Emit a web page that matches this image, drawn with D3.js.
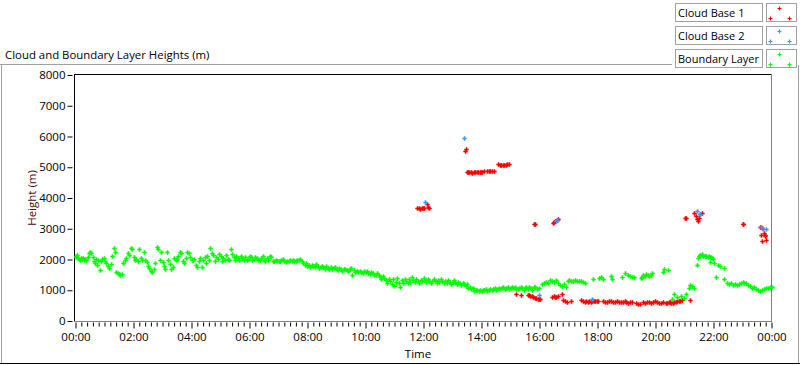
<!DOCTYPE html>
<html><head><meta charset="utf-8">
<script src="https://cdn.jsdelivr.net/npm/d3@7"></script>
<style>
html,body{margin:0;padding:0;background:#fff;}
svg{display:block;font-family:"Open Sans","Noto Sans",sans-serif;}
</style></head><body>
<svg id="c" width="800" height="365"></svg>
<script>
// ---- data (time in minutes since 00:00, height in m) ----
const seriesNames = ["Cloud Base 1", "Cloud Base 2", "Boundary Layer"];
const seriesColors = ["#ff0000", "#3399ff", "#00ff00"];
const xTickLabels = ["00:00","02:00","04:00","06:00","08:00","10:00","12:00","14:00","16:00","18:00","20:00","22:00","00:00"];
const yTickValues = [0,1000,2000,3000,4000,5000,6000,7000,8000];

const cloudBase1 = [
 [707,3660],[710,3670],[713,3650],[716,3680],[719,3660],[722,3690],[727,3790],[730,3720],[732,3660],
 [805,5515],[807,5580],
 [810,4860],[812,4850],[815,4830],[818,4830],[821,4820],[824,4830],[827,4830],[830,4840],[833,4830],[836,4840],[839,4850],[842,4860],[845,4870],
 [852,4880],[855,4890],[858,4890],[862,4880],[866,4880],
 [875,5110],[878,5080],[881,5070],[884,5070],[887,5070],[890,5080],[893,5090],[896,5110],
 [948,3164],[950,3164],
 [988,3200],[990,3210],[993,3260],[996,3300],[999,3330],
 [1262,3360],[1264,3360],
 [1279,3520],[1283,3410],[1285,3326],[1287,3261],[1290,3358],[1292,3488],[1296,3520],
 [1380,3164],[1382,3164],
 [1417,3055],[1421,3023],[1418,2807],[1424,2860],[1426,2785],[1427,2753],[1421,2614],[1428,2646],
 [912,864],[922,832],
 [936,842],[938,860],[941,820],[944,800],[947,767],[950,760],[953,735],[956,720],[959,712],[961,700],
 [986,780],[989,800],[992,790],[995,767],[998,810],[1007,864],
 [1009,680],[1012,640],[1016,625],[1025,637],
 [1045,680],[1051,640],[1054,630],[1057,650],[1060,620],[1063,640],[1066,630],[1069,650],[1072,640],[1075,660],[1078,640],[1081,650],
 [1092,650],[1096,630],[1100,620],[1104,640],[1108,650],[1112,630],[1116,620],[1120,640],[1124,630],[1128,610],[1132,620],[1136,640],[1140,620],[1144,600],[1148,630],[1152,620],
 [1159,570],[1163,540],[1167,560],
 [1175,620],[1179,600],[1183,630],[1187,610],[1191,590],[1195,620],[1199,640],[1203,610],[1207,580],[1211,600],[1215,620],
 [1221,600],[1224,580],[1227,610],[1230,620],[1233,600],[1236,590],[1239,630],[1242,620],[1245,640],[1248,660],[1251,650],[1254,680],
 [1271,680]
];

const cloudBase2 = [
 [724,3877],[804,5950],[994,3260],[997,3290],[959,832],[1069,723],[1286,3585],[1293,3466],[1418,3066],[1423,2990],[1428,2990]
];

const boundaryLayer = [
 [0,2130],[2,2080],[4,2150],[6,2050],[8,2020],[10,1990],[12,2040],[14,2010],[16,2060],[18,1980],[20,2030],[22,2000],[25,2070],[28,2220],[31,2240],[33,2200],[36,2080],[38,1950],[40,1880],[42,2020],[44,1820],[47,1990],[50,1650],[52,1940],[55,2010],[58,2060],[61,1960],[64,1880],[67,1790],[70,1730],[73,1850],[76,2100],[79,2380],[81,2240],[84,1600],[87,1560],[90,1530],[93,1500],[96,1540],[99,1900],[102,1980],[105,2040],[108,2200],[111,2150],[114,2380],[117,2330],[120,2070],[123,1980],[126,2020],[129,1960],[132,2340],[135,2050],[138,2000],[141,2240],[144,1990],[147,1930],
 [150,1800],[153,1720],[156,1620],[159,1580],[162,1700],[165,1880],[168,2400],[171,2350],[174,2000],[177,2240],[180,1920],[183,1790],[186,1700],[189,2250],[192,1980],[195,1860],[198,1680],[201,1750],[204,2050],[207,1980],[210,2030],[213,2100],[216,2260],[219,2200],[222,1960],[225,1900],[228,2040],[231,2250],[234,2220],[237,2080],[240,1990],[243,1970],[246,2010],[249,1830],[252,1740],[255,1950],[258,2050],[261,1760],[264,1990],[267,2070],[270,1870],[273,2100],[276,2000],[279,2390],
 [282,2200],[285,2150],[288,1960],[291,2080],[294,2010],[297,2180],[300,2100],[303,1940],[306,2060],[309,1990],[312,2150],[315,2030],[318,1970],[321,2330],[324,2180],[327,2070],[330,2000],[333,2110],[336,2040],[339,1980],[342,2120],[345,2060],[348,2000],[351,2080],[354,1990],[357,2020],[360,2130],[363,2070],[366,1980],[369,2010],[372,2090],[375,2040],[378,1970],[381,2000],[384,2050],[387,2100],[390,1980],[393,1960],[396,2040],[399,2000],[402,2120],[405,2070],[408,1950],[411,1940],[414,2000],[417,1960],[420,1950],[423,1940],[426,1980],[429,2020],[432,1960],[435,1930],[438,1950],[441,1940],[444,1970],[447,1950],[450,1990],
 [453,1960],[456,1940],[459,1970],[462,1980],[465,2020],[468,1950],[471,1880],[474,1810],[477,1900],[480,1780],[483,1830],[486,1760],[489,1820],[492,1790],[495,1740],[498,1850],[501,1790],[504,1720],[507,1770],[510,1800],[513,1750],[516,1700],[519,1780],[522,1730],[525,1700],[528,1760],[531,1680],[534,1720],[537,1750],[540,1690],[543,1660],[546,1720],[549,1700],[552,1640],[555,1680],[558,1700],[561,1650],[564,1620],[567,1680],[570,1720],[573,1490],[576,1650],[579,1600],[582,1620],[585,1580],[588,1640],[591,1600],[594,1570],[597,1630],
 [600,1580],[603,1640],[606,1560],[609,1520],[612,1600],[615,1550],[618,1510],[621,1480],[624,1560],[627,1500],[630,1430],[633,1380],[636,1460],[639,1400],[642,1330],[645,1250],[648,1380],[651,1300],[654,1200],[657,1350],[660,1140],[663,1280],[666,1400],[669,1230],[672,1110],[675,1320],[678,1250],[681,1380],[684,1300],[687,1220],[690,1350],[693,1280],[696,1420],[699,1330],[702,1260],[705,1380],[708,1300],[711,1250],[714,1340],[717,1290],[720,1400],
 [723,1330],[726,1270],[729,1360],[732,1300],[735,1250],[738,1310],[741,1380],[744,1290],[747,1230],[750,1320],[753,1270],[756,1350],[759,1300],[762,1240],[765,1290],[768,1220],[771,1330],[774,1270],[777,1200],[780,1260],[783,1320],[786,1240],[789,1190],[792,1270],[795,1230],[798,1180],[801,1250],[804,1200],[807,1150],[810,1190],[813,1080],[816,1120],[819,1030],[822,1060],[825,990],[828,1020],[831,1000],[834,970],[837,1010],
 [840,990],[843,1020],[846,1000],[849,1040],[852,980],[855,1010],[858,1050],[861,1000],[864,1030],[867,1060],[870,1010],[873,1040],[876,1080],[879,1030],[882,1060],[885,1090],[888,1050],[891,1070],[894,1100],[897,1040],[900,1080],[903,1110],[906,1060],[909,1090],[912,1050],[915,1030],[918,1080],[921,1110],[924,1060],[927,1020],[930,1070],[933,1100],[936,1050],[939,1090],[942,1060],[945,1020],[948,1090],[951,1110],[955,1050],[958,1080],
 [966,1200],[970,1250],[974,1280],[978,1220],[982,1330],[986,1300],[990,1260],[994,1330],[998,1250],[1002,1180],[1006,1150],[1010,1200],[1014,1110],
 [1018,1290],[1022,1330],[1026,1300],[1030,1310],[1034,1320],[1038,1300],[1042,1310],[1046,1300],[1050,1280],[1054,1230],
 [1071,1380],[1084,1400],[1088,1440],[1091,1370],[1107,1468],[1110,1380],
 [1131,1415],[1137,1545],[1144,1480],[1148,1470],[1152,1430],[1155,1420],
 [1169,1400],[1172,1430],[1175,1480],[1178,1450],[1181,1520],[1184,1490],[1187,1460],[1190,1500],[1193,1550],
 [1215,1587],[1217,1706],[1226,1660],
 [1234,700],[1238,864],[1245,780],[1252,810],[1259,740],[1264,864],[1269,1060],[1272,1160],[1276,1134],[1279,1070],
 [1285,1814],[1287,2050],[1290,2110],[1293,2150],[1296,2170],[1299,2130],[1302,2100],[1305,2120],[1308,2090],[1311,2100],[1313,1920],[1314,2080],[1317,2060],[1320,2010],[1321,1890],
 [1326,1436],[1330,1820],[1334,1780],[1341,1716],[1342,1360],
 [1348,1240],[1352,1200],[1356,1250],[1360,1180],[1364,1210],[1368,1160],[1372,1200],[1376,1230],[1380,1260],[1384,1250],[1388,1240],
 [1392,1170],[1396,1140],[1400,1080],[1404,1100],[1408,1050],[1412,1000],[1416,970],[1420,1000],[1424,1040],[1428,1080],[1432,1060],[1436,1100],[1440,1090]
];

// ---- layout ----
const svg = d3.select("#c");
const FONT = "'Segoe UI','Open Sans',sans-serif";
const X0 = 75.5, X1 = 771.5, Y0 = 321, Y1 = 75;
const x = d3.scaleLinear().domain([0, 1440]).range([X0, X1]);
const y = d3.scaleLinear().domain([0, 8000]).range([Y0, Y1]);

// outer frame
svg.append("line").attr("x1",0).attr("x2",672).attr("y1",64.5).attr("y2",64.5).attr("stroke","#a0a0a0");
svg.append("line").attr("x1",1.5).attr("x2",1.5).attr("y1",65).attr("y2",363).attr("stroke","#a0a0a0");
svg.append("line").attr("x1",798.5).attr("x2",798.5).attr("y1",65).attr("y2",363).attr("stroke","#a0a0a0");
svg.append("line").attr("x1",0).attr("x2",800).attr("y1",363.5).attr("y2",363.5).attr("stroke","#000");

svg.append("text").attr("x",5).attr("y",59).attr("font-size",11.4).attr("font-family",FONT).attr("fill","#000")
  .text("Cloud and Boundary Layer Heights (m)");

// plot area frame
svg.append("rect").attr("x",74).attr("y",74).attr("width",698).attr("height",247).attr("fill","#fff");
svg.append("line").attr("x1",74.5).attr("x2",772).attr("y1",74.5).attr("y2",74.5).attr("stroke","#000");
svg.append("line").attr("x1",74.5).attr("x2",74.5).attr("y1",74).attr("y2",322).attr("stroke","#000");
svg.append("line").attr("x1",74).attr("x2",772).attr("y1",321.5).attr("y2",321.5).attr("stroke","#808080");
svg.append("line").attr("x1",771.5).attr("x2",771.5).attr("y1",74).attr("y2",322).attr("stroke","#808080");

// y axis
const yAxis = d3.axisLeft(y).tickValues(yTickValues).tickSize(5).tickPadding(2).tickFormat(d3.format("d"));
const gy = svg.append("g").attr("transform","translate(72.5,0)").call(yAxis);
gy.select(".domain").remove();
gy.selectAll(".tick line").attr("stroke","#000");
gy.selectAll(".tick text").attr("font-size",11.5).attr("fill","#000").attr("font-family",FONT);

// x axis major
const majorVals = xTickLabels.map((d,i)=>i*120);
const xAxis = d3.axisBottom(x).tickValues(majorVals).tickSize(6).tickPadding(4).tickFormat((d,i)=>xTickLabels[i]);
const gx = svg.append("g").attr("transform","translate(0,322.5)").call(xAxis);
gx.select(".domain").remove();
gx.selectAll(".tick line").attr("stroke","#000");
gx.selectAll(".tick text").attr("font-size",11.5).attr("fill","#000").attr("font-family",FONT);
// minor ticks every 12 min
const minorVals = d3.range(0, 1441, 12).filter(v => v % 120 !== 0);
const gm = svg.append("g").attr("transform","translate(0,322.5)")
  .call(d3.axisBottom(x).tickValues(minorVals).tickSize(4).tickFormat(""));
gm.select(".domain").remove();
gm.selectAll(".tick line").attr("stroke","#000");

// axis titles
svg.append("text").attr("x",418).attr("y",358).attr("text-anchor","middle").attr("font-size",11.5).attr("font-family",FONT).attr("fill","#000").text("Time");
svg.append("text").attr("transform","translate(36,198) rotate(-90)").attr("text-anchor","middle")
  .attr("font-size",11.5).attr("font-family",FONT).attr("fill","#4a0a0a").text("Height (m)");

// markers
function plus(g, data, color){
  g.selectAll("path").data(data).join("path")
    .attr("d", d => {
      const cx = Math.round(x(d[0])) + 0.5, cy = Math.round(y(d[1])) + 0.5;
      return `M${cx-2.2},${cy}H${cx+2.2}M${cx},${cy-2.2}V${cy+2.2}`;
    })
    .attr("stroke", color).attr("stroke-width", 1.6).attr("fill","none");
}
const plotG = svg.append("g");
plus(plotG.append("g"), cloudBase1, seriesColors[0]);
plus(plotG.append("g"), cloudBase2, seriesColors[1]);
plus(plotG.append("g"), boundaryLayer, seriesColors[2]);

// legend
const legTop = [3, 26, 49];
seriesNames.forEach((name, i) => {
  const g = svg.append("g").attr("transform", `translate(0,${legTop[i]})`);
  g.append("rect").attr("x",675.5).attr("y",0.5).attr("width",87).attr("height",18).attr("fill","#fff").attr("stroke","#a0a0a0");
  g.append("text").attr("x",678).attr("y",14).attr("font-size",11).attr("font-family",FONT).attr("fill","#000").text(name);
  g.append("rect").attr("x",766.5).attr("y",0.5).attr("width",30).attr("height",18).attr("fill","#fff").attr("stroke","#a0a0a0");
  const pts = [[779,5],[770,15],[789,15]];
  g.selectAll("path.m").data(pts).join("path").attr("class","m")
    .attr("d", p => `M${p[0]-1.5},${p[1]+0.5}H${p[0]+2.5}M${p[0]+0.5},${p[1]-1.5}V${p[1]+2.5}`)
    .attr("stroke", seriesColors[i]).attr("stroke-width",1.2).attr("fill","none");
});
</script>
</body></html>
